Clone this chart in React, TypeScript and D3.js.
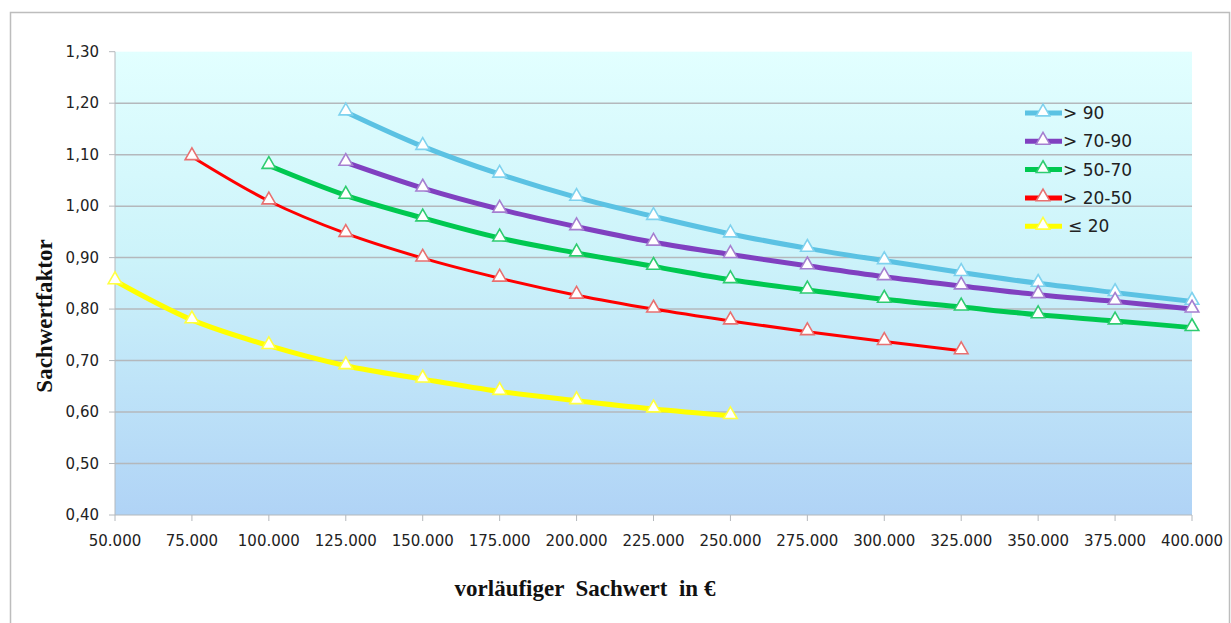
import React from "react";
import * as d3 from "d3";

const xTicks = [50000, 75000, 100000, 125000, 150000, 175000, 200000, 225000, 250000, 275000, 300000, 325000, 350000, 375000, 400000];
const yTicks = [0.4, 0.5, 0.6, 0.7, 0.8, 0.9, 1.0, 1.1, 1.2, 1.3];

const seriesNames = ["> 90", "> 70-90", "> 50-70", "> 20-50", "≤ 20"];
const seriesColors = ["#5BC2E3", "#8040C0", "#00C850", "#FF0000", "#FFFF00"];
const markerStrokes = ["#7FD2EE", "#A57FD0", "#2ECC70", "#E87070", "#FFFF40"];
const seriesWidths = [5, 5, 5, 3, 5];

const x_gt90 = [125000, 150000, 175000, 200000, 225000, 250000, 275000, 300000, 325000, 350000, 375000, 400000];
const y_gt90 = [1.183, 1.116, 1.062, 1.017, 0.980, 0.946, 0.918, 0.894, 0.871, 0.850, 0.832, 0.815];

const x_70_90 = [125000, 150000, 175000, 200000, 225000, 250000, 275000, 300000, 325000, 350000, 375000, 400000];
const y_70_90 = [1.085, 1.035, 0.994, 0.960, 0.930, 0.906, 0.884, 0.863, 0.845, 0.828, 0.815, 0.800];

const x_50_70 = [100000, 125000, 150000, 175000, 200000, 225000, 250000, 275000, 300000, 325000, 350000, 375000, 400000];
const y_50_70 = [1.079, 1.021, 0.977, 0.938, 0.909, 0.883, 0.857, 0.837, 0.819, 0.804, 0.789, 0.777, 0.764];

const x_20_50 = [75000, 100000, 125000, 150000, 175000, 200000, 225000, 250000, 275000, 300000, 325000];
const y_20_50 = [1.096, 1.010, 0.947, 0.899, 0.860, 0.827, 0.800, 0.777, 0.756, 0.737, 0.719];

const x_le20 = [50000, 75000, 100000, 125000, 150000, 175000, 200000, 225000, 250000];
const y_le20 = [0.855, 0.779, 0.729, 0.690, 0.664, 0.640, 0.622, 0.606, 0.593];

const seriesX = [x_gt90, x_70_90, x_50_70, x_20_50, x_le20];
const seriesY = [y_gt90, y_70_90, y_50_70, y_20_50, y_le20];

const fmtX = (v: number) => d3.format(",")(v).replace(/,/g, ".");
const fmtY = (v: number) => v.toFixed(2).replace(".", ",");

const W = 1231;
const H = 623;
const L = 115, R = 1192, T = 51.7, B = 515;

export default function App() {
  const x = d3.scaleLinear().domain([50000, 400000]).range([L, R]);
  const y = d3.scaleLinear().domain([0.4, 1.3]).range([B, T]);
  const line = d3
    .line<[number, number]>()
    .x((d) => x(d[0]))
    .y((d) => y(d[1]))
    .curve(d3.curveCatmullRom.alpha(0.5));
  const tri = d3.symbol().type(d3.symbolTriangle).size(80);

  const legendY0 = 113;
  const legendStep = 28.3;
  const tickFont = "'DejaVu Sans', Verdana, sans-serif";

  return (
    <svg width={W} height={H} style={{ position: "absolute", left: 0, top: 0, background: "#fff" }}>
      <defs>
        <linearGradient id="bg" x1="0" y1="0" x2="0" y2="1">
          <stop offset="0%" stopColor="#E2FFFF" />
          <stop offset="45%" stopColor="#CCF3FA" />
          <stop offset="100%" stopColor="#B0D3F6" />
        </linearGradient>
      </defs>
      <rect x={10.5} y={12.5} width={1219} height={620} fill="#fff" stroke="#BDBDBD" strokeWidth={1.5} />
      <rect x={L} y={T} width={R - L} height={B - T} fill="url(#bg)" />
      {yTicks.map((t) => (
        <g key={"y" + t}>
          {t > 0.4 && t < 1.3 && (
            <line x1={L} x2={R} y1={y(t)} y2={y(t)} stroke="#B4B8BC" strokeWidth={1.5} />
          )}
          <line x1={L - 6} x2={L} y1={y(t)} y2={y(t)} stroke="#B4B8BC" strokeWidth={1} />
          <text x={L - 16} y={y(t)} dy="0.35em" textAnchor="end" fontFamily={tickFont} fontSize={15} fill="#222">
            {fmtY(t)}
          </text>
        </g>
      ))}
      <line x1={L} x2={L} y1={T} y2={B} stroke="#B4B8BC" strokeWidth={1} />
      <line x1={L} x2={R} y1={B} y2={B} stroke="#B4B8BC" strokeWidth={1} />
      {xTicks.map((t) => (
        <g key={"x" + t}>
          <line x1={x(t)} x2={x(t)} y1={B} y2={B + 6} stroke="#B4B8BC" strokeWidth={1} />
          <text x={x(t)} y={B + 31} textAnchor="middle" fontFamily={tickFont} fontSize={15} fill="#222">
            {fmtX(t)}
          </text>
        </g>
      ))}
      {seriesNames.map((n, i) => {
        const pts = seriesX[i].map((xv, j) => [xv, seriesY[i][j]] as [number, number]);
        return (
          <g key={n}>
            <path d={line(pts) || ""} fill="none" stroke={seriesColors[i]} strokeWidth={seriesWidths[i]} strokeLinejoin="round" />
            {pts.map((p, j) => (
              <path
                key={j}
                d={tri() || ""}
                transform={`translate(${x(p[0])},${y(p[1]) - 1})`}
                fill="#fff"
                stroke={markerStrokes[i]}
                strokeWidth={1.6}
              />
            ))}
          </g>
        );
      })}
      {seriesNames.map((n, i) => {
        const ly = legendY0 + i * legendStep;
        return (
          <g key={"lg" + n}>
            <line x1={1025} x2={1062} y1={ly} y2={ly} stroke={seriesColors[i]} strokeWidth={5} />
            <path d={tri() || ""} transform={`translate(1043,${ly - 1})`} fill="#fff" stroke={markerStrokes[i]} strokeWidth={1.6} />
            <text x={n.startsWith("≤") ? 1068 : 1063} y={ly} dy="0.36em" fontFamily={tickFont} fontSize={17} fill="#222">
              {n}
            </text>
          </g>
        );
      })}
      <text
        transform={`translate(52,316) rotate(-90)`}
        textAnchor="middle"
        fontFamily="'Liberation Serif', 'Times New Roman', serif"
        fontWeight="bold"
        fontSize={23}
        fill="#111"
      >
        Sachwertfaktor
      </text>
      <text
        x={585}
        y={596}
        textAnchor="middle"
        fontFamily="'Liberation Serif', 'Times New Roman', serif"
        fontWeight="bold"
        fontSize={23}
        fill="#111"
        style={{ whiteSpace: "pre" }}
      >
        {"vorläufiger  Sachwert  in €"}
      </text>
    </svg>
  );
}
